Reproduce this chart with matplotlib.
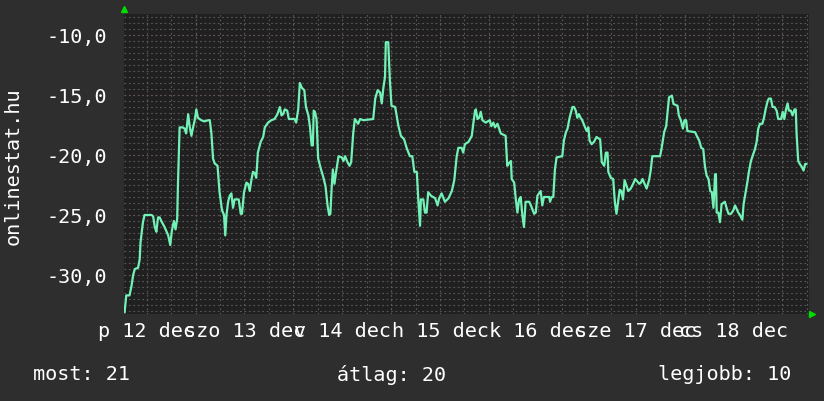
import matplotlib
matplotlib.use("Agg")
import matplotlib.pyplot as plt
from matplotlib.ticker import MultipleLocator, FuncFormatter

# hours since 12 dec 00:00, temperature (C)
hours = [
    6.6, 7.0, 7.8, 8.3, 8.7, 9.1, 9.9, 10.3, 10.5, 11.1, 11.5, 13.2, 13.6, 14.0,
    14.4, 14.8, 15.2, 15.6, 16.4, 17.3, 17.8, 18.2, 18.7, 19.1, 19.5, 19.7, 20.1,
    20.9, 21.3, 21.7, 22.2, 22.6, 23.0, 23.4, 23.8, 24.2, 24.6, 25.4, 26.2, 27.1,
    27.5, 27.9, 28.3, 28.7, 29.4, 29.9, 30.5, 31.0, 31.3, 31.6, 32.0, 32.4, 32.8,
    33.2, 33.6, 34.6, 35.1, 35.4, 35.9, 36.5, 36.9, 37.3, 37.7, 38.1, 38.5, 38.9,
    39.3, 40.0, 40.6, 41.0, 41.8, 42.6, 43.4, 44.1, 44.7, 45.1, 45.5, 45.9, 46.5,
    46.9, 48.3, 48.7, 49.2, 49.6,
    50.1, 50.7, 51.1, 51.7, 52.1, 52.5, 52.8, 53.0, 53.3, 53.7, 54.1, 54.8, 55.4,
    55.9, 56.4, 56.8, 57.1, 57.4, 57.7, 58.1, 58.5, 59.1, 59.9, 60.3, 60.7, 61.3,
    61.8, 62.2, 62.7, 63.1, 63.9, 64.4, 65.2, 67.6, 68.1, 68.7, 69.3, 69.7, 70.1,
    70.5, 70.7, 71.3, 71.7, 72.1, 73.0, 73.8, 74.4, 75.2, 75.8, 76.6, 77.2, 77.7,
    78.3, 78.7, 79.1, 79.3, 79.9, 80.3, 80.7, 81.1, 81.8, 82.8, 83.4, 83.8, 84.4,
    85.2, 86.1, 86.9, 87.5, 88.1, 88.5, 89.3, 89.7, 90.1, 91.0, 91.8, 92.2, 92.6,
    92.8, 93.2, 93.6, 94.0, 94.4, 95.2, 96.2, 96.6, 97.1, 97.5, 98.1, 98.5, 98.9,
    100.1, 100.5, 100.9, 101.4, 101.6, 102.2, 102.6, 103.0, 103.4, 103.8, 104.2,
    104.6, 105.0, 105.9, 106.3, 107.1, 107.5, 107.9, 108.7, 109.1, 109.5, 110.8,
    111.0, 111.4, 111.8, 112.2, 112.6, 114.0, 114.4, 114.9, 115.3, 115.8, 116.5,
    116.9, 117.3, 117.7, 118.1, 118.5, 118.9, 119.6, 120.0, 120.4, 120.7, 121.2,
    121.8, 122.4, 123.3, 123.7, 124.3, 124.7, 125.1, 125.3, 125.9, 126.5, 126.9,
    127.3, 127.7, 128.1, 128.5, 128.9, 129.3, 130.2, 130.8, 131.4, 131.9, 132.9,
    133.3, 133.7, 134.2, 134.7, 135.3, 135.7, 136.1,
    136.8, 138.0, 138.4, 139.0, 139.5, 139.9, 140.2, 140.9, 141.3, 142.3, 142.6,
    143.1, 143.6, 144.0, 144.4, 144.7, 146.6, 147.0, 147.6, 148.1, 148.6, 149.0,
    149.4, 149.9, 150.3, 150.7, 151.1, 151.5, 151.7, 151.9, 152.3, 152.7, 153.1,
    153.9, 154.4, 154.8, 155.4, 156.0, 156.4, 157.2, 157.6, 158.2, 158.5, 159.0,
    159.5, 159.8, 160.3, 160.9, 161.3, 161.7, 162.1, 162.5, 163.1, 163.5, 163.9,
    164.4, 164.7, 165.2, 165.6, 166.1, 166.6, 167.0, 167.7, 168.1, 168.5, 168.9,
    169.3, 169.6, 170.1, 170.5, 171.0, 171.3, 171.5, 171.9, 172.3, 172.8, 173.2,
    173.6, 173.9,
]
temps = [
    -33.1, -31.7, -31.7, -30.9, -30.0, -29.5, -29.4, -28.7, -27.3, -25.6, -25.0,
    -25.0, -25.1, -26.0, -26.4, -25.2, -25.2, -25.5, -26.0, -26.7, -27.5, -26.3,
    -25.5, -26.2, -25.3, -22.3, -17.7, -17.7, -17.8, -18.2, -16.6, -17.7, -18.4,
    -17.7, -17.1, -16.2, -16.9, -17.1, -17.2, -17.1, -17.1, -18.2, -20.3, -20.7,
    -20.9, -23.1, -24.6, -25.0, -26.7, -25.0, -23.9, -23.4, -23.2, -24.4, -23.7,
    -23.7, -24.9, -24.9, -23.1, -22.3, -22.4, -23.0, -22.1, -21.4, -21.5, -21.9,
    -19.8, -18.9, -18.5, -17.7, -17.3, -17.1, -17.0, -16.6, -16.0, -16.7, -16.6,
    -16.2, -16.3, -17.0, -17.0, -17.3, -16.2, -14.0,
    -14.4, -14.6, -16.0, -16.7, -17.7, -19.2, -19.2, -16.3, -16.4, -17.0, -20.3,
    -21.2, -21.9, -22.6, -24.2, -25.0, -24.9, -22.8, -21.2, -22.4, -21.4, -20.1,
    -20.2, -20.5, -20.1, -20.6, -20.9, -20.6, -18.2, -17.0, -17.4, -17.0, -17.1,
    -17.0, -15.3, -14.6, -14.8, -15.7, -14.4, -13.5, -10.6, -10.6, -13.8, -15.9,
    -16.0, -17.6, -18.4, -18.7, -19.4, -20.1, -20.1, -21.4, -21.4, -23.9, -25.9,
    -23.7, -23.7, -24.8, -24.8, -23.1, -23.4, -23.6, -24.2, -23.6, -23.2, -23.9,
    -23.6, -23.0, -22.1, -20.1, -19.4, -19.4, -19.8, -19.1, -18.9, -18.4, -17.3,
    -16.3,
    -16.2, -17.0, -16.9, -16.4, -17.1, -17.3, -17.1, -17.6, -17.3, -17.7, -17.4,
    -17.8, -18.2, -18.4, -20.9, -20.7, -20.5, -22.0, -22.3, -23.7, -24.8, -23.7,
    -23.5, -25.0, -26.0, -23.9, -23.9, -24.2, -24.9, -24.8, -23.4, -23.0, -24.2,
    -23.5, -23.5, -23.9, -23.5, -23.5, -21.2, -20.2, -20.1, -18.8, -18.1, -17.8,
    -16.9, -16.0, -16.0, -16.3, -16.9, -16.6, -16.9, -17.1, -17.7, -18.0, -17.7,
    -18.8, -19.1, -18.9, -18.5, -18.7, -20.6, -20.9, -19.8, -19.8, -21.4, -21.9,
    -22.0, -23.9, -24.9, -23.9, -22.9, -23.0, -23.7, -22.1, -23.0, -22.8, -22.4,
    -22.0, -22.4, -22.3, -22.0, -22.4, -22.8, -22.1, -21.3, -20.1,
    -20.1, -20.1, -19.4, -18.1, -17.6, -16.2, -15.2, -15.05, -15.75, -15.9, -16.7,
    -17.1, -17.8, -17.1, -17.1, -18.0, -18.1, -18.4, -18.8, -19.4, -19.5, -20.9,
    -21.7, -22.0, -23.0, -23.1, -24.4, -21.6, -21.6, -24.8, -24.8, -25.6, -24.1,
    -23.9, -24.5, -24.9, -24.9, -24.6, -24.2, -24.8, -25.0, -25.4, -24.1, -23.1,
    -22.1, -21.4, -20.5, -19.9, -19.5, -18.9, -17.8, -17.4, -17.4, -16.9, -16.2,
    -15.5, -15.3, -15.3, -16.0, -16.0, -16.3, -17.0, -17.0, -16.4, -17.0, -16.2,
    -15.7, -16.3, -16.3, -16.7, -16.2, -16.2, -18.2, -20.5, -20.75, -21.0, -21.3,
    -20.75, -20.75,
]

day_labels = ["p 12 dec", "szo 13 dec", "v 14 dec", "h 15 dec",
              "k 16 dec", "sze 17 dec", "cs 18 dec"]
label_hours = [12, 36, 60, 84, 108, 132, 156]
stat_labels = ["most: 21", "átlag: 20", "legjobb: 10"]

mono = "DejaVu Sans Mono"
fig = plt.figure(figsize=(8.24, 4.02), dpi=100, facecolor="#2e2e2e")
ax = fig.add_axes([124 / 824, 87 / 402, 685 / 824, 300 / 402])
ax.set_facecolor("#202020")

ax.set_xlim(6.45, 174.55)
ax.set_ylim(-33.25, -8.25)

ax.xaxis.remove_overlapping_locs = False
ax.yaxis.remove_overlapping_locs = False
ax.xaxis.set_major_locator(MultipleLocator(24))
ax.xaxis.set_minor_locator(MultipleLocator(6))
ax.yaxis.set_major_locator(MultipleLocator(5))
ax.yaxis.set_minor_locator(MultipleLocator(0.5))

dots = (0, (1.5, 2.5))
ax.grid(which="minor", color="#5a5a5a", linestyle=dots, linewidth=0.8)
ax.grid(which="major", color="#8a3434", linestyle=dots, linewidth=0.8)
ax.set_axisbelow(True)

ax.plot(hours, temps, color="#72f2b6", linewidth=1.6, zorder=3)

ax.yaxis.set_major_formatter(FuncFormatter(lambda v, p: f"{v:.1f}".replace(".", ",")))
ax.tick_params(axis="y", which="both", length=0, pad=12, labelsize=14.5,
               labelcolor="white")
ax.tick_params(axis="x", which="both", length=0, labelbottom=False)
for lbl in ax.get_yticklabels():
    lbl.set_family(mono)

for h, t in zip(label_hours, day_labels):
    ax.text(h, -33.25 - 0.55, t, ha="center", va="top", color="white",
            fontsize=14.5, family=mono)

for s in ax.spines.values():
    s.set_visible(False)

# small green arrows on the axes
ax.plot([0], [1.018], marker="^", color="#00dd00", markersize=5,
        transform=ax.transAxes, clip_on=False)
ax.plot([1.005], [0], marker=">", color="#00dd00", markersize=5,
        transform=ax.transAxes, clip_on=False)

fig.text(13 / 824, 1 - 166 / 402, "onlinestat.hu", rotation=90, ha="center",
         va="center", color="white", fontsize=14.5, family=mono)
fig.text(33 / 824, 1 - 375 / 402, stat_labels[0], ha="left", va="center",
         color="white", fontsize=14.5, family=mono)
fig.text(392 / 824, 1 - 375 / 402, stat_labels[1], ha="center", va="center",
         color="white", fontsize=14.5, family=mono)
fig.text(791 / 824, 1 - 375 / 402, stat_labels[2], ha="right", va="center",
         color="white", fontsize=14.5, family=mono)

fig.savefig("out.png", dpi=100, facecolor=fig.get_facecolor())
